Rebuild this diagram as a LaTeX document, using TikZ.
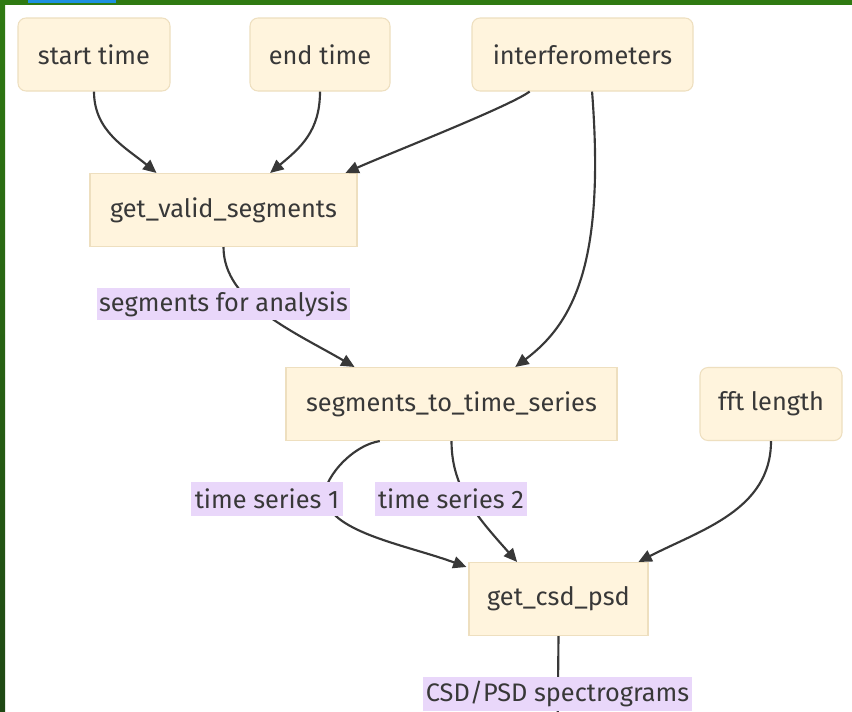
\documentclass[tikz,border=0pt]{standalone}
\usepackage{fontspec}
\setmainfont{Fira Sans}
\usetikzlibrary{arrows.meta,calc}
\definecolor{NodeFill}{HTML}{FFF4DD}
\definecolor{NodeRule}{HTML}{EEDFBF}
\definecolor{LabelFill}{HTML}{E9D7FA}
\definecolor{Ink}{HTML}{383838}
\definecolor{Frame}{HTML}{2F7A12}
\definecolor{FrameDark}{HTML}{1F4814}
\definecolor{Tab}{HTML}{1E90E0}

\begin{document}
\begin{tikzpicture}[x=0.75pt,y=-0.75pt,
  inbox/.style={draw=NodeRule,fill=NodeFill,rounded corners=6pt,minimum height=54.75pt,inner sep=0pt,font=\fontsize{19}{23}\selectfont,text=Ink,line width=0.8pt},
  procbox/.style={inbox,rounded corners=0pt},
  edgelabel/.style={fill=LabelFill,minimum height=24pt,inner xsep=0pt,inner ysep=0pt,font=\fontsize{19}{23}\selectfont,text=Ink},
  arrow/.style={-{Triangle[length=10pt,width=9pt]},line width=1.6pt,draw=Ink},
  plain/.style={line width=1.6pt,draw=Ink}
]
  % page and frame
  \useasboundingbox (0,0) rectangle (852,711);
  \fill[white] (0,0) rectangle (852,711);
  \shade[top color=Frame,bottom color=FrameDark] (0,0) rectangle (5,711);
  \fill[Frame] (0,0) rectangle (852,5);
  \fill[Tab] (28,0) rectangle (116,3);

  % inputs
  \node[inbox,minimum width=114pt] (start) at (94,54.5) {start time};
  \node[inbox,minimum width=105pt] (end) at (320,54.5) {end time};
  \node[inbox,minimum width=165.75pt] (ifos) at (582.5,54.5) {interferometers};
  \node[inbox,minimum width=106.5pt] (fft) at (771,404) {fft length};

  % processing steps
  \node[procbox,minimum width=200.25pt] (valid) at (223.5,210) {get\_valid\_segments};
  \node[procbox,minimum width=248.25pt] (tseries) at (451.5,404) {segments\_to\_time\_series};
  \node[procbox,minimum width=134.25pt] (csd) at (558.5,599) {get\_csd\_psd};
  \coordinate (out) at (557.5,740);
  \coordinate (via1) at (325,499);

  % connectors
  \draw[arrow] (start.south) .. controls +(0,40) and +(-30,-25) .. ($(valid.north west)!0.25!(valid.north east)$);
  \draw[arrow] (end.south) .. controls +(0,40) and +(30,-25) .. ($(valid.north west)!0.674!(valid.north east)$);
  \draw[arrow] ($(ifos.south west)!0.262!(ifos.south east)$) .. controls +(-20,15) and +(40,-18) .. ($(valid.north west)!0.955!(valid.north east)$);
  \draw[arrow] ($(ifos.south west)!0.543!(ifos.south east)$) .. controls +(13,168) and +(60,-45) .. ($(tseries.north west)!0.692!(tseries.north east)$);
  \draw[arrow] (valid.south) .. controls +(0,55) and +(-60,-35) .. ($(tseries.north west)!0.208!(tseries.north east)$);
  \draw[arrow] ($(tseries.south west)!0.284!(tseries.south east)$) .. controls +(-30,5) and +(-4,-17) .. (via1)
    .. controls +(8,34) and +(-60,-22) .. ($(csd.north west)+(-2,5)$);
  \draw[arrow] ($(tseries.south west)!0.5!(tseries.south east)$) .. controls +(0,49) and +(-37,-42) .. ($(csd.north west)!0.27!(csd.north east)$);
  \draw[arrow] (fft.south) .. controls +(0,69) and +(62,-32) .. ($(csd.north west)!0.944!(csd.north east)$);
  \draw[plain] (csd.south) -- (out);

  % edge labels
  \node[edgelabel,minimum width=189.75pt] (lblseg) at (223.5,304) {segments for analysis};
  \node[edgelabel,minimum width=114pt,minimum height=25.5pt] (lblts1) at (267,499) {time series 1};
  \node[edgelabel,minimum width=114pt,minimum height=25.5pt] (lblts2) at (451,499) {time series 2};
  \node[edgelabel,minimum width=201.75pt,minimum height=25.5pt] (lblspec) at (557.5,694) {CSD/PSD spectrograms};
\end{tikzpicture}
\end{document}
